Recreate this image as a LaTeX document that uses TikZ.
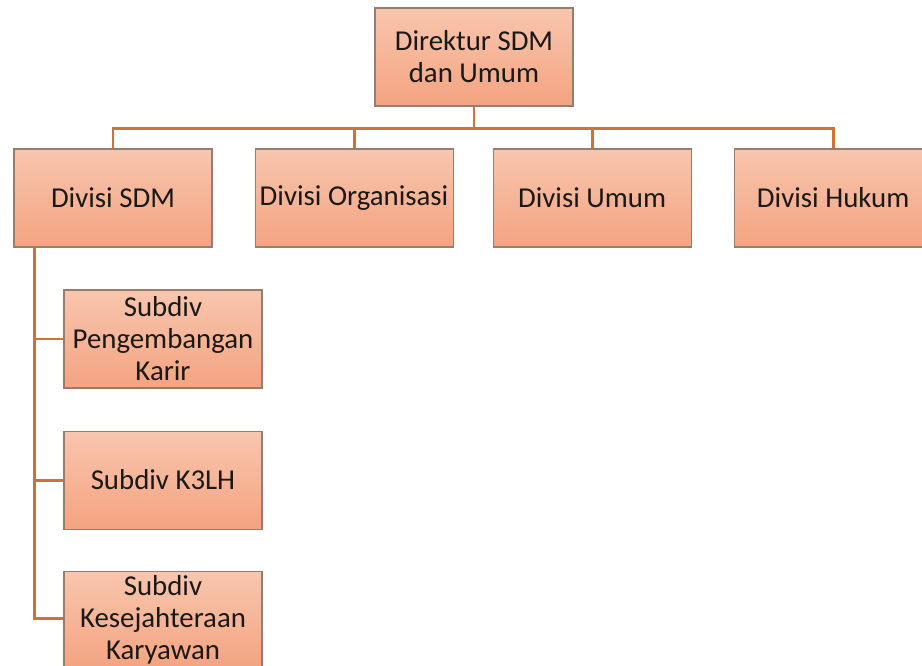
\documentclass[tikz,border=0pt]{standalone}
\usepackage{fontspec}
\setmainfont{Carlito}
\usetikzlibrary{positioning}

\definecolor{boxtop}{RGB}{248,198,174}
\definecolor{boxbot}{RGB}{244,163,128}
\definecolor{boxline}{RGB}{150,125,112}
\definecolor{linkorange}{RGB}{208,114,52}

\begin{document}
\begin{tikzpicture}[
		node distance=0.84cm and 0.84cm,
		every node/.style={font=\fontsize{16.4}{18.2}\selectfont, text=black!90},
		orgbox/.style={
			rectangle,
			draw=boxline,
			line width=0.6pt,
			align=center,
			minimum width=3.96cm,
			minimum height=1.96cm,
			inner sep=0pt,
			top color=boxtop,
			bottom color=boxbot
		},
		link/.style={
			draw=linkorange,
			line width=1.7pt
		}
		]
		
		\useasboundingbox (0,0) rectangle (18.44,-13.32);
		\clip (0,0) rectangle (18.44,-13.32);
		
		% Nodes
		\node[orgbox] (dir) at (9.48,-1.14) {Direktur SDM\\dan Umum};
		
		\node[orgbox] (sdm) at (2.26,-3.96) {Divisi SDM};
		\node[orgbox, right=of sdm] (org) {Divisi Organisasi};
		\node[orgbox, right=0.78cm of org] (umum) {Divisi Umum};
		\node[orgbox, right=of umum] (hukum) {Divisi Hukum};
		
		\node[orgbox] (karir) at (3.26,-6.78) {Subdiv\\Pengembangan\\Karir};
		\node[orgbox, below=of karir] (k3lh) {Subdiv K3LH};
		\node[orgbox, below=0.82cm of k3lh] (sejahtera) {Subdiv\\Kesejahteraan\\Karyawan};
		
		% Links (top level)
		\draw[link] (dir.south) -- ++(0,-0.44) -| (sdm.north);
		\draw[link] (dir.south) -- ++(0,-0.44) -| (org.north);
		\draw[link] (dir.south) -- ++(0,-0.44) -| (umum.north);
		\draw[link] (dir.south) -- ++(0,-0.44) -| (hukum.north);
		
		% Links (subdivisions)
		\draw[link] ([xshift=0.42cm]sdm.south west) |- (karir.west);
		\draw[link] ([xshift=0.42cm]sdm.south west) |- (k3lh.west);
		\draw[link] ([xshift=0.42cm]sdm.south west) |- ([yshift=0.04cm]sejahtera.west);
		
	\end{tikzpicture}
\end{document}
